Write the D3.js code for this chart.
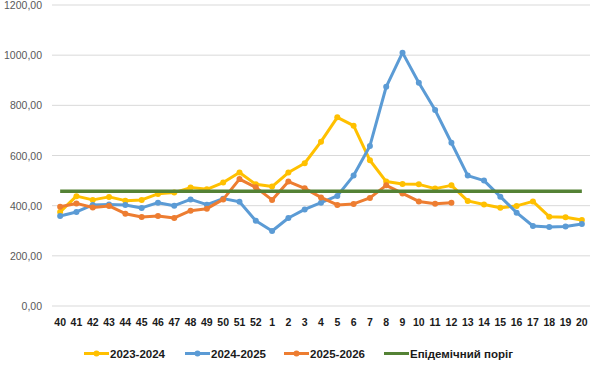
<!DOCTYPE html>
<html><head><meta charset="utf-8">
<script src="https://cdn.jsdelivr.net/npm/d3@7"></script>
<style>body{margin:0;background:#fff}svg{display:block}</style>
</head><body>
<svg id="c" width="591" height="368"></svg>
<script>
const weeks = ["40","41","42","43","44","45","46","47","48","49","50","51","52","1","2","3","4","5","6","7","8","9","10","11","12","13","14","15","16","17","18","19","20"];
const s2324 = [375,438,423,435,420,423,447,452,472,465,492,532,485,476,532,569,655,752,719,581,496,486,485,468,481,419,405,392,399,417,356,354,343];
const s2425 = [359,375,403,405,403,391,412,400,425,404,428,416,340,299,351,385,412,439,520,638,874,1010,890,781,651,520,500,436,372,319,315,317,327];
const s2526 = [396,409,393,399,368,355,359,351,380,388,425,506,473,423,496,469,433,403,407,431,481,449,417,408,412];
const threshold = 457;
const yTicks = [0,200,400,600,800,1000,1200];
const seriesNames = ["2023-2024","2024-2025","2025-2026","Епідемічний поріг"];
const colors = ["#FFC000","#5B9BD5","#ED7D31","#548235"];

const svg = d3.select("#c");
const L=52, R=590, T=5, B=306;
const x = d3.scaleBand().domain(weeks).range([L,R]);
const y = d3.scaleLinear().domain([0,1200]).range([B,T]);
const cx = d => x(d)+x.bandwidth()/2;
const fmt = v => d3.format(".2f")(v).replace(".", ",");
const FF = "Liberation Sans, Arial, sans-serif";

svg.append("g").selectAll("line").data(yTicks).join("line")
  .attr("x1",L).attr("x2",R).attr("y1",d=>y(d)).attr("y2",d=>y(d))
  .attr("stroke","#d9d9d9").attr("stroke-width",1);
svg.append("g").selectAll("text").data(yTicks).join("text")
  .attr("x",42).attr("y",d=>y(d)+4).attr("text-anchor","end")
  .attr("font-family",FF).attr("font-size",10.5).attr("fill","#595959")
  .text(fmt);
svg.append("g").selectAll("text").data(weeks).join("text")
  .attr("x",d=>cx(d)).attr("y",325.5).attr("text-anchor","middle")
  .attr("font-family",FF).attr("font-size",10.5).attr("font-weight","bold").attr("fill","#1a1a1a")
  .text(d=>d);

const line = d3.line().x(d=>cx(d.w)).y(d=>y(d.v));

[s2324,s2425,s2526].forEach((s,i)=>{
  const data = s.map((v,k)=>({w:weeks[k],v}));
  const g = svg.append("g");
  g.append("path").datum(data).attr("d",line).attr("fill","none")
    .attr("stroke",colors[i]).attr("stroke-width",3).attr("stroke-linejoin","round");
  g.selectAll("circle").data(data).join("circle")
    .attr("cx",d=>cx(d.w)).attr("cy",d=>y(d.v)).attr("r",3).attr("fill",colors[i]);
});
// threshold drawn last (on top)
svg.append("path").datum(weeks.map(w=>({w,v:threshold})))
  .attr("d",line).attr("fill","none").attr("stroke",colors[3]).attr("stroke-width",3.5);

const legX = [84,185,284,384];
const lg = svg.append("g");
seriesNames.forEach((n,i)=>{
  lg.append("line").attr("x1",legX[i]).attr("x2",legX[i]+25).attr("y1",353.5).attr("y2",353.5)
    .attr("stroke",colors[i]).attr("stroke-width",3);
  if(i<3) lg.append("circle").attr("cx",legX[i]+12.5).attr("cy",353.5).attr("r",3).attr("fill",colors[i]);
  lg.append("text").attr("x",legX[i]+26).attr("y",357.5)
    .attr("font-family",FF).attr("font-size",11.5).attr("font-weight","bold").attr("fill","#1a1a1a").text(n);
});
</script>
</body></html>
